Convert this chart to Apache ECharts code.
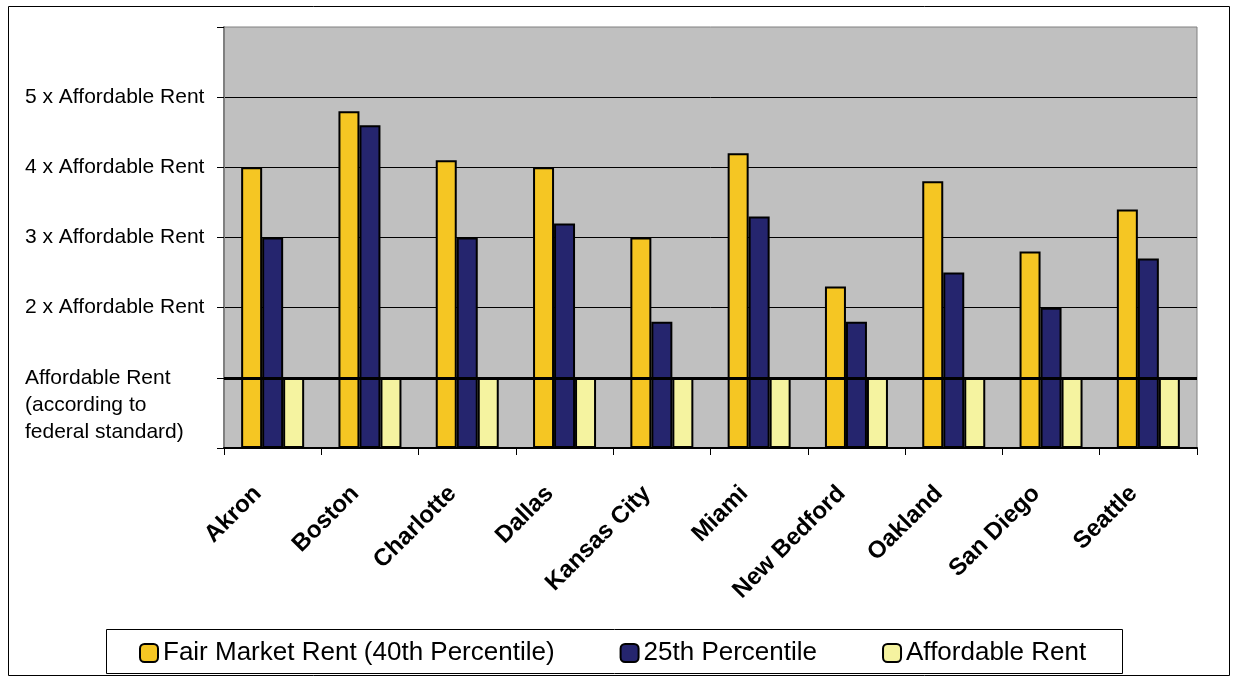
<!DOCTYPE html>
<html>
<head>
<meta charset="utf-8">
<script src="https://cdn.jsdelivr.net/npm/echarts@6/dist/echarts.min.js"></script>
<style>
html,body{margin:0;padding:0;background:#fff;}
#chart{width:1235px;height:683px;}
</style>
</head>
<body>
<div id="chart"></div>
<script>
const categories = ['Akron','Boston','Charlotte','Dallas','Kansas City','Miami','New Bedford','Oakland','San Diego','Seattle'];
const fairMarketRent = [4.0, 4.8, 4.1, 4.0, 3.0, 4.2, 2.3, 3.8, 2.8, 3.4];
const percentile25 = [3.0, 4.6, 3.0, 3.2, 1.8, 3.3, 1.8, 2.5, 2.0, 2.7];
const affordableRent = [1, 1, 1, 1, 1, 1, 1, 1, 1, 1];
const yTickLabels = ['', 'Affordable Rent\n(according to\nfederal standard)', '2 x Affordable Rent', '3 x Affordable Rent', '4 x Affordable Rent', '5 x Affordable Rent', ''];
const seriesNames = ['Fair Market Rent (40th Percentile)', '25th Percentile', 'Affordable Rent'];
const affordableLevel = 1;

const FONT = "'Liberation Sans', Arial, sans-serif";
const colors = ['#F5C623', '#25256E', '#F5F3A0'];

const chart = echarts.init(document.getElementById('chart'), null, {renderer: 'canvas'});
const barStyle = (c) => ({color: c, borderColor: '#000', borderWidth: 2});

const option = {
  animation: false,
  backgroundColor: '#fff',
  grid: {left: 224, top: 27, right: 38, bottom: 235, show: true, backgroundColor: '#C0C0C0', borderColor: '#808080', borderWidth: 1},
  legend: {
    data: seriesNames,
    left: 139, top: 640,
    padding: 0,
    itemGap: 65,
    itemWidth: 18, itemHeight: 18,
    textStyle: {fontFamily: FONT, fontSize: 26, color: '#000'}
  },
  xAxis: {
    type: 'category',
    data: categories,
    boundaryGap: true,
    axisLine: {lineStyle: {color: '#000', width: 2}},
    axisTick: {show: true, length: 7, interval: 0, alignWithLabel: false, lineStyle: {color: '#000', width: 1}},
    axisLabel: {interval: 0, rotate: 45, margin: 27, padding: [0, 21, 0, 0], fontFamily: FONT, fontSize: 24, fontWeight: 'bold', color: '#000'},
    splitLine: {show: false}
  },
  yAxis: {
    type: 'value',
    min: 0, max: 6, interval: 1,
    axisLine: {show: true, lineStyle: {color: '#808080', width: 2}},
    axisTick: {show: true, length: 7, lineStyle: {color: '#000', width: 1}},
    axisLabel: {
      margin: 199, align: 'left',
      fontFamily: FONT, fontSize: 21, color: '#000', lineHeight: 27,
      formatter: function (v) {
        const i = Math.round(v);
        const s = yTickLabels[i] || '';
        return i === 1 ? '\n\n' + s : s;
      }
    },
    splitLine: {show: true, showMinLine: false, showMaxLine: false, lineStyle: {color: '#000', width: 1}}
  },
  series: [
    {name: seriesNames[0], type: 'bar', data: fairMarketRent, barWidth: 21, barGap: '0%', itemStyle: barStyle(colors[0])},
    {name: seriesNames[1], type: 'bar', data: percentile25, barWidth: 21, barGap: '0%', itemStyle: barStyle(colors[1])},
    {name: seriesNames[2], type: 'bar', data: affordableRent, barWidth: 21, barGap: '0%', itemStyle: barStyle(colors[2]),
      markLine: {
        silent: true, symbol: ['none', 'none'], label: {show: false},
        lineStyle: {color: '#000', width: 3, type: 'solid'},
        data: [{yAxis: affordableLevel}]
      }
    }
  ],
  graphic: [
    {type: 'rect', silent: true, shape: {x: 8.5, y: 6.5, width: 1221, height: 669}, style: {fill: 'none', stroke: '#000', lineWidth: 1}},
    {type: 'rect', silent: true, shape: {x: 106.5, y: 629.5, width: 1016, height: 44}, style: {fill: 'none', stroke: '#000', lineWidth: 1}}
  ]
};
chart.setOption(option);
</script>
</body>
</html>
